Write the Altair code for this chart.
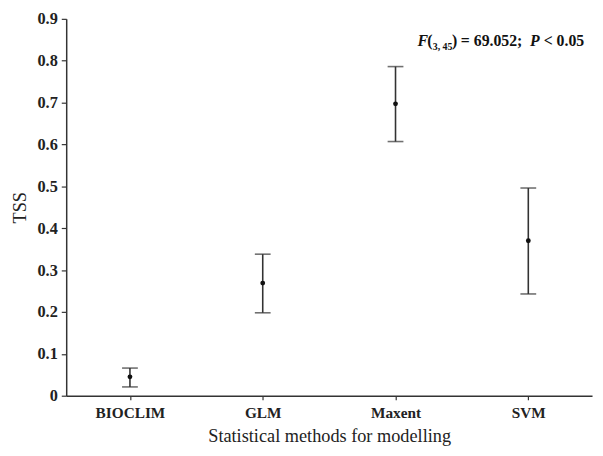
import altair as alt
import pandas as pd

methods = ["BIOCLIM", "GLM", "Maxent", "SVM"]
tss_mean = [0.045, 0.269, 0.697, 0.370]
tss_low = [0.021, 0.198, 0.607, 0.243]
tss_high = [0.066, 0.338, 0.786, 0.496]
y_ticks = [0, 0.1, 0.2, 0.3, 0.4, 0.5, 0.6, 0.7, 0.8, 0.9]

df = pd.DataFrame({"method": methods, "mean": tss_mean, "low": tss_low, "high": tss_high})

SERIF = "Times New Roman, Liberation Serif, serif"
INK = "#333333"

x_enc = alt.X(
    "method:N",
    sort=methods,
    scale=alt.Scale(type="point", padding=0.48),
    axis=alt.Axis(
        title="Statistical methods for modelling",
        labelAngle=0,
        labelFont=SERIF, labelFontSize=15.5, labelFontWeight="bold", labelColor="#222",
        titleFont=SERIF, titleFontSize=18.5, titleFontWeight="normal", titleColor="#222",
        titlePadding=6,
        domainColor=INK, domainWidth=1.5, tickColor=INK, tickWidth=1.2, tickSize=4,
        labelPadding=6, grid=False,
    ),
)
y_scale = alt.Scale(domain=[0, 0.9], nice=False, zero=True)
y_axis = alt.Axis(
    title="TSS",
    values=y_ticks,
    labelExpr="datum.value == 0 ? '0' : format(datum.value, '.1f')",
    labelFont=SERIF, labelFontSize=16.5, labelFontWeight="bold", labelColor="#222",
    titleFont=SERIF, titleFontSize=18.5, titleFontWeight="normal", titleColor="#222",
    titlePadding=8,
    domainColor=INK, domainWidth=1.5, tickColor=INK, tickWidth=1.2, tickSize=5,
    labelPadding=4, grid=False,
)

base = alt.Chart(df)

rules = base.mark_rule(color=INK, strokeWidth=1.6).encode(
    x=x_enc,
    y=alt.Y("low:Q", scale=y_scale, axis=y_axis),
    y2="high:Q",
)
caps_hi = base.mark_tick(color=INK, orient="horizontal", size=16, thickness=1.6).encode(
    x=alt.X("method:N", sort=methods), y=alt.Y("high:Q")
)
caps_lo = base.mark_tick(color=INK, orient="horizontal", size=16, thickness=1.6).encode(
    x=alt.X("method:N", sort=methods), y=alt.Y("low:Q")
)
points = base.mark_point(filled=True, shape="circle", size=24, color="#111", opacity=1).encode(
    x=alt.X("method:N", sort=methods), y=alt.Y("mean:Q")
)

one = pd.DataFrame({"k": [0]})


def piece(text, x, y, size=16, style="normal"):
    return alt.Chart(one).mark_text(
        text=text, x=x, y=y, align="left", baseline="alphabetic",
        font=SERIF, fontSize=size, fontWeight="bold", fontStyle=style, color="#111",
    )


annot = [
    piece("F", 356, 28, style="italic"),
    piece("(", 366, 28),
    piece("3, 45", 371.5, 32, size=10),
    piece(")", 391, 28),
    piece("= 69.052;", 400, 28),
    piece("P", 470, 28, style="italic"),
    piece("< 0.05", 484, 28),
]

chart = alt.layer(rules, caps_hi, caps_lo, points, *annot).properties(
    width=533,
    height=382,
    autosize=alt.AutoSizeParams(type="none"),
    padding={"left": 59, "top": 8, "right": 3, "bottom": 50},
    background="white",
).configure_view(stroke=None)

chart.save("out.html", embed_options={"renderer": "svg", "actions": False})
